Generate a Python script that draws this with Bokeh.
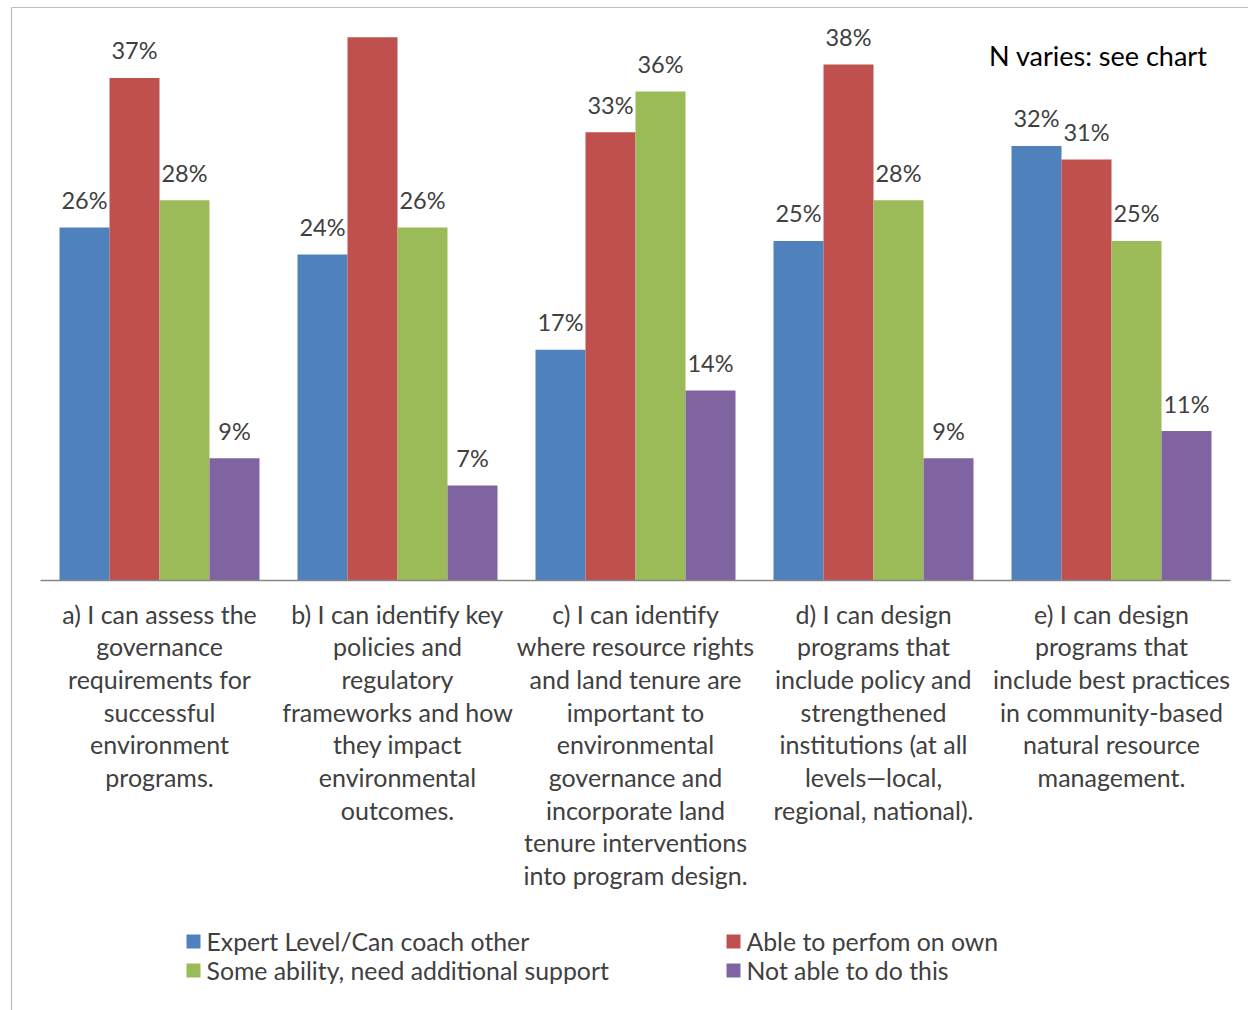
from bokeh.plotting import figure
from bokeh.models import Range1d, ColumnDataSource
from bokeh.core.properties import value
from bokeh.embed import file_html
from bokeh.resources import INLINE

categories = [
    "a) I can assess the\ngovernance\nrequirements for\nsuccessful\nenvironment\nprograms.",
    "b) I can identify key\npolicies and\nregulatory\nframeworks and how\nthey impact\nenvironmental\noutcomes.",
    "c) I can identify\nwhere resource rights\nand land tenure are\nimportant to\nenvironmental\ngovernance and\nincorporate land\ntenure interventions\ninto program design.",
    "d) I can design\nprograms that\ninclude policy and\nstrengthened\ninstitutions (at all\nlevels\u2014local,\nregional, national).",
    "e) I can design\nprograms that\ninclude best practices\nin community-based\nnatural resource\nmanagement.",
]
series_names = [
    "Expert Level/Can coach other",
    "Able to perfom on own",
    "Some ability, need additional support",
    "Not able to do this",
]
expert = [26, 24, 17, 25, 32]
own = [37, 40, 33, 38, 31]
some = [28, 26, 36, 28, 25]
notable = [9, 7, 14, 9, 11]
series_values = [expert, own, some, notable]
colors = ["#4F81BD", "#C0504D", "#9BBB59", "#8064A2"]
note = "N varies: see chart"

W, H = 1248, 1010
K = 13.58          # px per percent
BASE = 580         # baseline pixel row
CX0, CW = 159, 238  # first category centre, category width (px)
PLOT_TOP = 8       # top of chart area (px)

def py(p):
    return (BASE - p) / K

def px(p):
    return (p - CX0) / CW

FONT = value("Lato")
TXT = "#404040"

p = figure(width=W, height=H, output_backend="svg", toolbar_location=None,
           x_range=Range1d(px(0), px(W)), y_range=Range1d(py(H), py(0)),
           x_axis_location=None, y_axis_location=None, min_border=0)
p.outline_line_color = None
p.grid.visible = False
p.background_fill_color = "white"

# chart border (partial frame)
p.segment(x0=[px(11), px(11)], y0=[py(7), py(7)], x1=[px(11), px(W)], y1=[py(H), py(7)],
          line_color="#BFBFBF", line_width=1.2)

bw = 50 / CW
offsets = [-1.5, -0.5, 0.5, 1.5]
ymax_label = py(PLOT_TOP + 24)
for vals, col, off in zip(series_values, colors, offsets):
    xs = [i + off * bw for i in range(len(categories))]
    src = ColumnDataSource(dict(x=xs, top=vals))
    p.vbar(x="x", top="top", bottom=0, width=bw, source=src,
           fill_color=col, line_color=None)
    keep = [v + 1.0 < ymax_label for v in vals]
    lx = [x for x, k in zip(xs, keep) if k]
    ly = [v for v, k in zip(vals, keep) if k]
    lt = ["%d%%" % v for v in ly]
    p.text(x=lx, y=[v + 1.0 for v in ly], text=lt, text_font=FONT,
           text_font_size="23.5px", text_align="center", text_baseline="bottom",
           text_color=TXT)

# baseline axis line
p.segment(x0=[px(40)], y0=[0], x1=[px(1230)], y1=[0], line_color="#868686", line_width=1.5)

# category labels
p.text(x=list(range(len(categories))), y=[py(598)] * len(categories), text=categories,
       text_font=FONT, text_font_size="25px", text_align="center", text_baseline="top",
       text_line_height=1.089, text_color=TXT)

# note
p.text(x=[px(1207)], y=[py(55)], text=[note], text_font=FONT, text_font_size="27px",
       text_align="right", text_baseline="middle", text_color="#000000")

# legend (manual)
leg_x = [193, 733, 193, 733]
leg_y = [941, 941, 970, 970]
p.scatter(x=[px(v) for v in leg_x], y=[py(v) for v in leg_y], marker="square", size=14,
          fill_color=colors, line_color=None)
p.text(x=[px(v + 13) for v in leg_x], y=[py(v) for v in leg_y], text=series_names,
       text_font=FONT, text_font_size="24.8px", text_align="left", text_baseline="middle",
       text_color=TXT)

open("out.html", "w").write(file_html(p, INLINE))
